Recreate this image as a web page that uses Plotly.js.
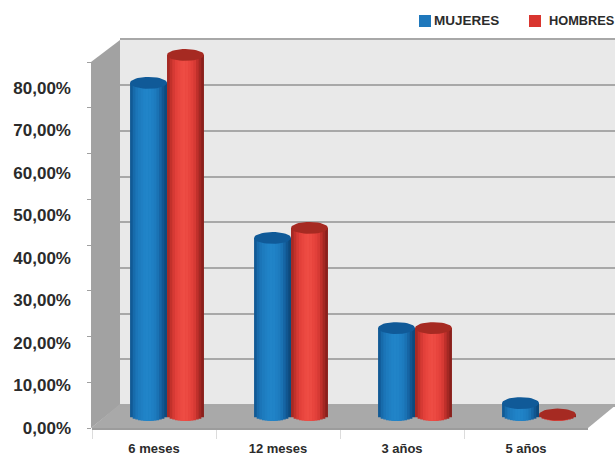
<!DOCTYPE html>
<html>
<head>
<meta charset="utf-8">
<script src="https://cdn.plot.ly/plotly-3.0.1.min.js"></script>
<style>html,body{margin:0;padding:0;background:#fff}#c{width:615px;height:457px}</style>
</head>
<body>
<div id="c"></div>
<script>
// Data
var categories = ['6 meses', '12 meses', '3 años', '5 años'];
var mujeres = [72.6, 38.7, 19.0, 2.6];
var hombres = [78.7, 40.9, 19.0, 0.1];
var tickValues = [0, 10, 20, 30, 40, 50, 60, 70, 80];
var tickLabels = ['0,00%', '10,00%', '20,00%', '30,00%', '40,00%', '50,00%', '60,00%', '70,00%', '80,00%'];

// Cylinder shading, left edge to right edge
var blueShades = ['#115a95','#176bab','#1b75b8','#1d7bbe','#1f7fc3','#2083c7','#2184c8','#2083c7','#1f7fc3','#1d7bbe','#1a72b3','#1665a4','#115690','#0d4a7c'];
var redShades = ['#a52a25','#c2312b','#d63a34','#e2403a','#e8453e','#ec4a42','#ee4c44','#ec4a42','#e8453e','#e2403a','#d63a34','#bf302b','#a32823','#8a201c'];
var blueCap = '#105a98';
var redCap = '#a62a22';
var textColor = '#2b2b2b';

var W = 615, H = 457;
function X(p) { return p / W; }
function Y(p) { return 1 - p / H; }

var capRx = 0.149;   // half cylinder width, in category units
var capRy = 1.3;     // half cap height, in value units
var blueShift = -capRx - 0.008;
var redShift = capRx - 0.008;

// Strips are painted from the outer edges inward, each reaching the cylinder's axis,
// so that neighbouring strips leave no seams.
function stripTraces(values, shades, shift) {
  var n = shades.length, w = 2 * capRx / n, out = [];
  function strip(i) {
    var t = (i + 0.5) / n * 2 - 1;
    var drop = capRy * Math.sqrt(1 - t * t);
    var left = i < n / 2;
    return {
      type: 'bar', x: categories, xaxis: 'x3', yaxis: 'y3',
      y: values.map(function (v) { return v + drop; }),
      base: values.map(function () { return -drop; }),
      width: left ? (n / 2 - i) * w : (i + 1 - n / 2) * w,
      offset: left ? shift - capRx + i * w : shift,
      marker: { color: shades[i], line: { width: 0 } },
      showlegend: false, hoverinfo: 'skip'
    };
  }
  for (var i = 0; i < n / 2; i++) {
    out.push(strip(i));
    out.push(strip(n - 1 - i));
  }
  return out;
}

function capTrace(values, shift, color, name) {
  var xs = [], ys = [];
  values.forEach(function (v, k) {
    for (var a = 0; a <= 40; a++) {
      var ang = a / 40 * 2 * Math.PI;
      xs.push(k + shift + capRx * Math.cos(ang));
      ys.push(v + capRy * Math.sin(ang));
    }
    xs.push(null); ys.push(null);
  });
  return {
    type: 'scatter', mode: 'lines', x: xs, y: ys, xaxis: 'x4', yaxis: 'y3',
    fill: 'toself', fillcolor: color, line: { width: 0, color: color },
    name: name, showlegend: false, hoverinfo: 'skip'
  };
}

function emptyTrace(xa, ya) {
  return { type: 'scatter', mode: 'lines', x: categories, y: categories.map(function () { return null; }),
    xaxis: xa, yaxis: ya, showlegend: false, hoverinfo: 'skip' };
}

var traces = [
  emptyTrace('x', 'y'),
  emptyTrace('x', 'y4'),
  emptyTrace('x2', 'y2')
].concat(
  stripTraces(mujeres, blueShades, blueShift),
  stripTraces(hombres, redShades, redShift),
  [capTrace(mujeres, blueShift, blueCap, 'MUJERES'),
   capTrace(hombres, redShift, redCap, 'HOMBRES')]
);

function poly(pts) {
  return 'M' + pts.map(function (p) { return X(p[0]) + ',' + Y(p[1]); }).join('L') + 'Z';
}
function deco(pts, color) {
  return { type: 'path', xref: 'paper', yref: 'paper', layer: 'below', path: poly(pts),
    fillcolor: color, line: { width: 0 } };
}

var hidden = { visible: false, showgrid: false, zeroline: false };
var bold = { family: 'Liberation Sans, Arial, sans-serif', weight: 700, color: textColor };
function font(size) { return Object.assign({}, bold, { size: size }); }

var layout = {
  width: W, height: H,
  margin: { l: 0, r: 0, t: 0, b: 0, pad: 0 },
  paper_bgcolor: '#ffffff', plot_bgcolor: 'rgba(0,0,0,0)',
  barmode: 'overlay', showlegend: false, hovermode: false,
  xaxis: {
    domain: [X(92), X(588)], type: 'category', categoryorder: 'array', categoryarray: categories,
    range: [-0.5, 3.5], anchor: 'y', tickson: 'boundaries', ticks: 'outside', ticklen: 9,
    tickcolor: '#dcdcdc', tickwidth: 1, showline: true, linecolor: '#9c9c9c', linewidth: 2,
    showgrid: false, zeroline: false, tickfont: font(13), ticklabelstandoff: 7
  },
  yaxis: {
    domain: [Y(428), Y(88)], range: [0, 80], anchor: 'x', tickmode: 'array',
    tickvals: tickValues, ticktext: tickLabels, tickfont: font(17), ticks: '',
    showgrid: false, zeroline: false, showline: false, ticklabelstandoff: 20
  },
  yaxis4: {
    domain: [Y(428), Y(62)], range: [0, 80], anchor: 'x', dtick: 10, ticks: 'outside', ticklen: 4,
    tickcolor: '#a0a0a0', tickwidth: 1, showticklabels: false, showgrid: false, zeroline: false, showline: false
  },
  xaxis2: {
    domain: [X(120), 1], type: 'category', anchor: 'y2', showline: true, mirror: true, linecolor: '#a8a8a8',
    linewidth: 2, showticklabels: false, ticks: '', showgrid: false, zeroline: false
  },
  yaxis2: {
    domain: [Y(405), Y(39.5)], range: [0, 80], dtick: 10, anchor: 'x2', showticklabels: false, ticks: '',
    showgrid: true, gridcolor: '#a8a8a8', gridwidth: 2, zeroline: false, showline: false
  },
  xaxis3: Object.assign({}, hidden, { domain: [X(106), X(602)], type: 'category', categoryorder: 'array',
    categoryarray: categories, range: [-0.5, 3.5], anchor: 'y3' }),
  yaxis3: Object.assign({}, hidden, { domain: [Y(415 + 22.875), Y(49)], range: [-5, 80], anchor: 'x3' }),
  xaxis4: Object.assign({}, hidden, { domain: [X(106), X(602)], type: 'linear', range: [-0.5, 3.5], anchor: 'y3' }),
  shapes: [
    deco([[120, 40], [616, 40], [616, 405], [120, 405]], '#e9e9e9'),
    deco([[91, 62], [120, 40], [120, 405], [91, 428]], '#a2a2a2'),
    deco([[91, 428], [120, 404], [617, 404], [588, 428]], '#a9a9a9'),
    { type: 'rect', xref: 'paper', yref: 'paper', x0: X(419), x1: X(431), y0: Y(27), y1: Y(15), fillcolor: '#1f78bc', line: { width: 0 } },
    { type: 'rect', xref: 'paper', yref: 'paper', x0: X(529), x1: X(541), y0: Y(27), y1: Y(15), fillcolor: '#d9352f', line: { width: 0 } }
  ],
  annotations: [
    { xref: 'paper', yref: 'paper', x: X(433), y: Y(20), xanchor: 'left', yanchor: 'middle', showarrow: false,
      text: 'MUJERES', font: font(13.5), borderpad: 0 },
    { xref: 'paper', yref: 'paper', x: X(548), y: Y(20), xanchor: 'left', yanchor: 'middle', showarrow: false,
      text: 'HOMBRES', font: font(12.8), borderpad: 0 }
  ]
};

Plotly.newPlot('c', traces, layout, { displayModeBar: false, responsive: false });
</script>
</body>
</html>
